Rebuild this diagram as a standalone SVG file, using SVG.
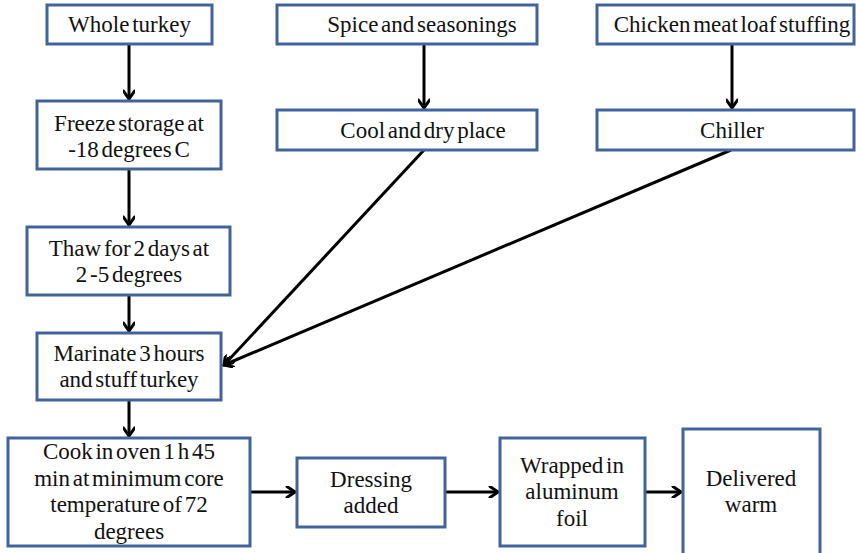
<svg xmlns="http://www.w3.org/2000/svg" width="856" height="553" viewBox="0 0 856 553">
<defs>
<style>
.box{fill:#fff;stroke:#41659a;stroke-width:3}
.c{stroke:#000;stroke-width:3;fill:none}
</style>
<marker id="ah" markerWidth="12" markerHeight="12" viewBox="0 0 12 12" refX="10" refY="6" orient="auto" markerUnits="userSpaceOnUse">
<path d="M2,0.5 L10,6 L2,11.5" fill="none" stroke="#000" stroke-width="3" stroke-linecap="round" stroke-linejoin="miter"/>
</marker>
</defs>
<rect width="856" height="553" fill="#fff"/>
<g id="connectors">
<line class="c" x1="129" y1="44" x2="129" y2="99" marker-end="url(#ah)"/>
<line class="c" x1="129" y1="169" x2="129" y2="225" marker-end="url(#ah)"/>
<line class="c" x1="129" y1="295" x2="129" y2="331" marker-end="url(#ah)"/>
<line class="c" x1="129" y1="400" x2="129" y2="436" marker-end="url(#ah)"/>
<line class="c" x1="424" y1="44" x2="424" y2="108" marker-end="url(#ah)"/>
<line class="c" x1="732" y1="44" x2="732" y2="108" marker-end="url(#ah)"/>
<line class="c" x1="424" y1="150" x2="224" y2="365" marker-end="url(#ah)"/>
<line class="c" x1="731" y1="150" x2="224" y2="365" marker-end="url(#ah)"/>
<line class="c" x1="250" y1="492" x2="295" y2="492" marker-end="url(#ah)"/>
<line class="c" x1="445" y1="492" x2="498" y2="492" marker-end="url(#ah)"/>
<line class="c" x1="645" y1="492" x2="681" y2="492" marker-end="url(#ah)"/>
</g>
<g font-family="Liberation Serif, Times New Roman, serif" font-size="23" fill="#111" text-anchor="middle" word-spacing="-3">
<g id="whole-turkey"><rect class="box" x="47" y="5" width="165" height="39"/><text x="129.5" y="32">Whole turkey</text></g>
<g id="spice"><rect class="box" x="277" y="5" width="260" height="39"/><text x="422" y="32">Spice and seasonings</text></g>
<g id="chicken"><rect class="box" x="597" y="5" width="257" height="39"/><text x="732" y="32">Chicken meat loaf stuffing</text></g>
<g id="freeze"><rect class="box" x="37" y="101" width="184" height="68"/><text x="129" y="131">Freeze storage at</text><text x="129" y="157">-18 degrees C</text></g>
<g id="cool"><rect class="box" x="277" y="110" width="260" height="40"/><text x="423" y="138">Cool and dry place</text></g>
<g id="chiller"><rect class="box" x="597" y="110" width="257" height="40"/><text x="732" y="138">Chiller</text></g>
<g id="thaw"><rect class="box" x="27" y="227" width="203" height="68"/><text x="129" y="256">Thaw for 2 days at</text><text x="129" y="282">2 -5 degrees</text></g>
<g id="marinate"><rect class="box" x="37" y="333" width="184" height="67"/><text x="129" y="361">Marinate 3 hours</text><text x="129" y="387">and stuff turkey</text></g>
<g id="cook"><rect class="box" x="8" y="438" width="242" height="108"/><text x="129" y="459">Cook in oven 1 h 45</text><text x="129" y="486">min at minimum core</text><text x="129" y="512">temperature of 72</text><text x="129" y="539">degrees</text></g>
<g id="dressing"><rect class="box" x="297" y="458" width="148" height="69"/><text x="371" y="487">Dressing</text><text x="371" y="513">added</text></g>
<g id="wrapped"><rect class="box" x="500" y="438" width="145" height="108"/><text x="572" y="473">Wrapped in</text><text x="572" y="499">aluminum</text><text x="572" y="526">foil</text></g>
<g id="delivered"><rect class="box" x="683" y="429" width="137" height="130"/><text x="751" y="486">Delivered</text><text x="751" y="512">warm</text></g>
</g>
</svg>
